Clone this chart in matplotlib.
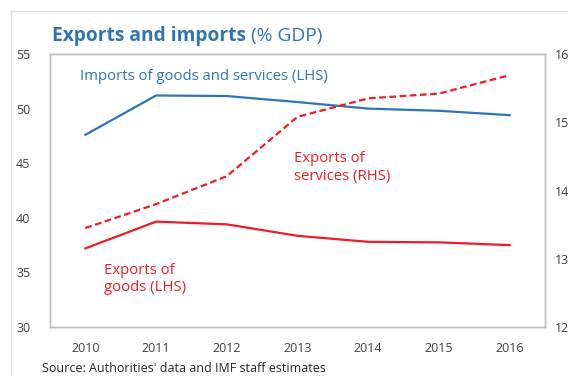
import matplotlib
matplotlib.use("Agg")
import matplotlib.pyplot as plt
from matplotlib.patches import Rectangle

years = [2010, 2011, 2012, 2013, 2014, 2015, 2016]
imports_lhs = [47.6, 51.2, 51.15, 50.6, 50.0, 49.8, 49.4]
exp_goods_lhs = [37.2, 39.65, 39.4, 38.35, 37.8, 37.75, 37.5]
exp_serv_rhs = [13.45, 13.8, 14.21, 15.08, 15.35, 15.42, 15.69]

left_ticks = [30, 35, 40, 45, 50, 55]
right_ticks = [12, 13, 14, 15, 16]

blue = "#2E75B6"
red = "#EE1C25"
grey_txt = "#404040"
frame = "#BFBFBF"

plt.rcParams["font.family"] = ["Open Sans", "DejaVu Sans"]

W, H = 568, 376
fig = plt.figure(figsize=(W / 100, H / 100), dpi=100)
fig.patches.append(Rectangle((11 / W, -0.1), 1.2, 1 - 11 / H + 0.1,
                             transform=fig.transFigure, fill=False,
                             edgecolor="#DDDDDD", linewidth=1))

ax = fig.add_axes([50 / W, 1 - 327 / H, 495 / W, 273 / H])
ax2 = ax.twinx()

ax.plot(years, imports_lhs, color=blue, lw=1.6)
ax.plot(years, exp_goods_lhs, color=red, lw=1.6)
ax2.plot(years, exp_serv_rhs, color=red, lw=1.6, ls=(0, (3, 1.6)))

ax.set_xlim(2009.5, 2016.5)
ax.set_ylim(30, 55)
ax2.set_ylim(12, 16)
ax.set_xticks(years)
ax.set_yticks(left_ticks)
ax2.set_yticks(right_ticks)

for a in (ax, ax2):
    for s in a.spines.values():
        s.set_color(frame)
        s.set_linewidth(1)
    a.tick_params(length=0, labelsize=9, colors=grey_txt)
ax.tick_params(axis="y", pad=14)
ax.tick_params(axis="x", pad=11)
ax2.tick_params(axis="y", pad=7)

ax.text(2009.92, 52.9, "Imports of goods and services (LHS)", color=blue,
        fontsize=10.7, va="center", ha="left")
ax.text(2012.95, 44.6, "Exports of\nservices (RHS)", color=red,
        fontsize=10.7, va="center", ha="left", linespacing=1.2)
ax.text(2010.27, 34.4, "Exports of\ngoods (LHS)", color=red,
        fontsize=10.7, va="center", ha="left", linespacing=1.2)

t1 = fig.text(52 / W, 1 - 36 / H, "Exports and imports", color=blue,
              fontsize=13.8, fontweight="bold", va="center", ha="left")
fig.canvas.draw()
bb = t1.get_window_extent()
fig.text((bb.x1 + 5) / W, 1 - 36 / H, "(% GDP)", color=blue,
         fontsize=13.8, va="center", ha="left")

fig.text(42 / W, 1 - 368 / H, "Source: Authorities' data and IMF staff estimates",
         color="#262626", fontsize=9, va="center", ha="left")

fig.savefig("out.png", dpi=100)
